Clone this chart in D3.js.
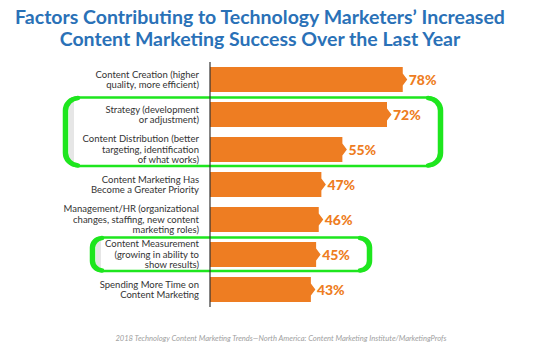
<!DOCTYPE html>
<html>
<head>
<meta charset="utf-8">
<script src="https://cdn.jsdelivr.net/npm/d3@7"></script>
<style>
  body { margin: 0; background: #fff; }
  svg { display: block; }
</style>
</head>
<body>
<svg id="chart" width="542" height="352"></svg>
<script>
// data
const categories = [
  "Content Creation (higher|quality, more efficient)",
  "Strategy (development|or adjustment)",
  "Content Distribution (better|targeting, identification|of what works)",
  "Content Marketing Has|Become a Greater Priority",
  "Management/HR (organizational|changes, staffing, new content|marketing roles)",
  "Content Measurement|(growing in ability to|show results)",
  "Spending More Time on|Content Marketing"
];
const values = [78, 72, 55, 47, 46, 45, 43];
const titleLines = [
  "Factors Contributing to Technology Marketers’ Increased",
  "Content Marketing Success Over the Last Year"
];
const source = "2018 Technology Content Marketing Trends—North America: Content Marketing Institute/MarketingProfs";
// highlighted groups (first and last category of each box)
const highlights = [
  [categories[1], categories[2]],
  [categories[5], categories[5]]
];

const svg = d3.select("#chart");
const orange = "#ee7d22";
const blue = "#2a71b7";
const green = "#1ee61e";
const axisX = 210;

const x = d3.scaleLinear().domain([0, 80]).range([198, 408]);
const y = d3.scaleBand()
  .domain(categories)
  .range([62, 307])
  .paddingInner(0.286)
  .paddingOuter(0.143);

// title
svg.append("g").selectAll("text")
  .data(titleLines)
  .enter()
  .append("text")
  .attr("x", 260)
  .attr("y", (d, i) => 24 + i * 22)
  .attr("text-anchor", "middle")
  .attr("font-family", "Lato, sans-serif")
  .attr("font-weight", "bold")
  .attr("font-size", 19.5)
  .attr("fill", blue)
  .text(d => d);

// highlight boxes
const boxX = [[63, 443], [90, 372]];
highlights.forEach((h, i) => {
  const x0 = boxX[i][0], x1 = boxX[i][1];
  const y0 = y(h[0]) - 5.5, y1 = y(h[1]) + y.bandwidth() + 5;
  const r = i === 0 ? 13 : 10;
  const g = svg.append("g");
  g.append("rect")
    .attr("x", x0 + 6).attr("y", y0 + 3)
    .attr("width", 5).attr("height", y1 - y0 - 6)
    .attr("fill", "#e6e6e6");
  g.append("rect")
    .attr("x", x0 + 1).attr("y", y0 + 1)
    .attr("width", x1 - x0 - 2).attr("height", y1 - y0 - 2)
    .attr("rx", r).attr("ry", r)
    .attr("fill", "none")
    .attr("stroke", green)
    .attr("stroke-width", 2.5);
  // thick sides
  const left = `M${x0 + r + 2},${y0 + 1.5} A${r},${r} 0 0 0 ${x0 + 3},${y0 + r + 1} V${y1 - r - 1} A${r},${r} 0 0 0 ${x0 + r + 2},${y1 - 1.5}`;
  const right = `M${x1 - r - 2},${y0 + 1.5} A${r},${r} 0 0 1 ${x1 - 3},${y0 + r + 1} V${y1 - r - 1} A${r},${r} 0 0 1 ${x1 - r - 2},${y1 - 1.5}`;
  g.selectAll("path").data([left, right]).enter().append("path")
    .attr("d", d => d)
    .attr("fill", "none")
    .attr("stroke", green)
    .attr("stroke-width", 4.5)
    .attr("stroke-linecap", "round");
});

// bars with pointed end
const bh = y.bandwidth();
svg.append("g").selectAll("path")
  .data(values)
  .enter()
  .append("path")
  .attr("d", (d, i) => {
    const t = y(categories[i]), e = x(d);
    return `M${axisX},${t} H${e} V${t + bh * 0.26} L${e + 4.5},${t + bh / 2} L${e},${t + bh * 0.74} V${t + bh} H${axisX} Z`;
  })
  .attr("fill", orange);

// value labels
svg.append("g").selectAll("text")
  .data(values)
  .enter()
  .append("text")
  .attr("x", d => x(d) + 6)
  .attr("y", (d, i) => y(categories[i]) + bh / 2)
  .attr("dy", "0.36em")
  .attr("font-family", "Lato, sans-serif")
  .attr("font-weight", "900")
  .attr("font-size", 14)
  .attr("fill", orange)
  .text(d => d + "%");

// axis line
svg.append("line")
  .attr("x1", axisX).attr("x2", axisX)
  .attr("y1", 62).attr("y2", 307)
  .attr("stroke", "#333")
  .attr("stroke-width", 1.2);

// category labels
const labels = svg.append("g")
  .attr("font-family", "Lato, sans-serif")
  .attr("font-size", 9.5)
  .attr("fill", "#333")
  .attr("text-anchor", "end");

categories.forEach(c => {
  const lines = c.split("|");
  const mid = y(c) + bh / 2;
  const lh = 10.5;
  const t = labels.append("text");
  lines.forEach((l, j) => {
    t.append("tspan")
      .attr("x", 199)
      .attr("y", mid + (j - (lines.length - 1) / 2) * lh)
      .attr("dy", "0.35em")
      .text(l);
  });
});

// source
svg.append("text")
  .attr("x", 281)
  .attr("y", 341)
  .attr("text-anchor", "middle")
  .attr("font-family", "Lato, sans-serif")
  .attr("font-style", "italic")
  .attr("font-size", 7.6)
  .attr("fill", "#a0a0a0")
  .text(source);
</script>
</body>
</html>
